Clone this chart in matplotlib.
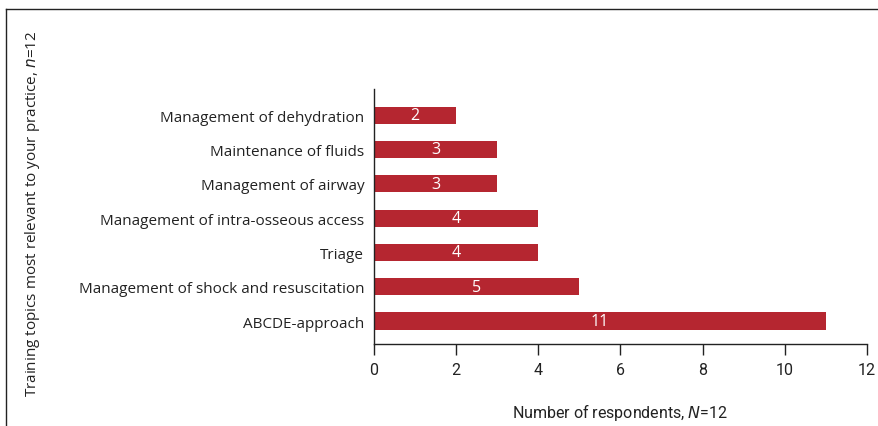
import matplotlib
matplotlib.use("Agg")
import matplotlib.pyplot as plt
from matplotlib.lines import Line2D

categories = ["ABCDE-approach", "Management of shock and resuscitation", "Triage",
              "Management of intra-osseous access", "Management of airway",
              "Maintenance of fluids", "Management of dehydration"]
values = [11, 5, 4, 4, 3, 3, 2]
xticks = [0, 2, 4, 6, 8, 10, 12]

narrow = "Roboto"
regular = "Open Sans"

fig = plt.figure(figsize=(8.79, 4.27), dpi=100)
ax = fig.add_axes([0.4255, 0.192, 0.5608, 0.597])
color = "#B52630"
ax.barh(range(len(categories)), values, height=0.5, color=color)
for i, v in enumerate(values):
    ax.text(v / 2, i, str(v), color="white", ha="center", va="center",
            fontsize=11.5, family=[regular])
ax.set_xlim(0, 12)
ax.set_ylim(-0.67, 6.76)
ax.set_xticks(xticks)
ax.set_xticklabels([str(t) for t in xticks], family=[narrow], fontsize=11.5)
ax.set_yticks(range(len(categories)))
ax.set_yticklabels(categories, family=[regular], fontsize=11, color="#222222")
ax.tick_params(axis="y", length=0, pad=7)
ax.tick_params(axis="x", length=8, width=1, direction="out", pad=5, colors="#222222")
for s in ["top", "right"]:
    ax.spines[s].set_visible(False)
for s in ["left", "bottom"]:
    ax.spines[s].set_linewidth(1.0)
    ax.spines[s].set_color("#222222")

ax.set_xlabel("Number of respondents, $\\mathit{N}$=12", family=[narrow], fontsize=11.5,
              labelpad=17, color="#222222")
fig.text(0.037, 0.5, "Training topics most relevant to your practice, $\\mathit{n}$=12",
         rotation=90, ha="center", va="center", family=[regular], fontsize=11,
         color="#222222")

fig.add_artist(Line2D([0.007, 0.007], [0.0, 0.977], transform=fig.transFigure,
                      color="#222222", lw=1))
fig.add_artist(Line2D([0.007, 1.0], [0.977, 0.977], transform=fig.transFigure,
                      color="#222222", lw=1))
fig.savefig("out.png", dpi=100)
